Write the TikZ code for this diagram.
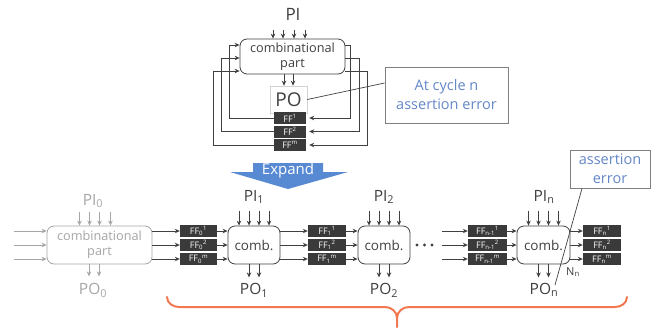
\documentclass[tikz,border=0pt]{standalone}
\usepackage{fontspec}
\setmainfont{Open Sans}
\usetikzlibrary{arrows.meta}
\definecolor{dk}{RGB}{64,64,64}
\definecolor{ffc}{RGB}{58,58,58}
\definecolor{lg}{RGB}{166,166,166}
\definecolor{bluet}{RGB}{100,135,200}
\definecolor{cbord}{RGB}{128,128,128}
\definecolor{expc}{RGB}{88,138,212}
\definecolor{brc}{RGB}{242,120,80}
\definecolor{pob}{RGB}{210,210,210}
\newcommand\fsz[2]{\fontsize{#1}{#2}\selectfont}
\tikzset{
  arr/.style={draw=dk, line width=0.9pt, -{Stealth[length=5pt,width=4.5pt]}},
  garr/.style={draw=lg, line width=0.9pt, -{Stealth[length=5pt,width=4.5pt]}},
  combbox/.style={draw=dk, rounded corners=7pt, fill=white, align=center, inner sep=0pt, line width=0.8pt, text=dk},
  gcombbox/.style={draw=lg, rounded corners=7pt, fill=white, align=center, inner sep=0pt, line width=0.8pt, text=lg},
  pobox/.style={draw=pob, fill=white, inner sep=0pt, text=dk, line width=0.6pt},
  ffbox/.style={fill=ffc, text=white, inner sep=0pt, minimum height=12pt, font=\fsz{9}{9}},
  callbox/.style={draw=cbord, fill=white, line width=0.9pt, align=center, text=bluet, inner sep=0pt, font=\fsz{14.5}{19}},
  cline/.style={draw=dk, line width=0.7pt},
  lbl/.style={text=dk, inner sep=0pt, font=\fsz{15.5}{15.5}},
  glbl/.style={text=lg, inner sep=0pt, font=\fsz{15.5}{15.5}},
  brace/.style={draw=brc, line width=2pt, line cap=round},
}
\begin{document}
\begin{tikzpicture}[x=1pt,y=-1pt]
\useasboundingbox (0,0) rectangle (659,327);

% ---------- top: sequential circuit ----------
\node[lbl, font=\fsz{17}{17}] (pi) at (293,14) {PI};
\node[combbox, minimum width=105pt, minimum height=35pt, font=\fsz{12.7}{15}] (comb) at (292.5,56.5) {combinational\\part};
\foreach \d in {-19.5,-9.5,1.5,12.5}
  \draw[arr] ([xshift=\d pt,yshift=9pt]comb.north) -- ([xshift=\d pt]comb.north);
\node[pobox, minimum width=37pt, minimum height=27pt, font=\fsz{19}{19}] (po) at (288.5,99.5) {PO};
\draw[arr] (comb.south -| 284,0) -- (po.north -| 284,0);
\draw[arr] (comb.south -| 293,0) -- (po.north -| 293,0);
\node[ffbox, minimum width=32pt] (ff1) at (290,118) {FF\textsuperscript{1}};
\node[ffbox, minimum width=32pt] (ff2) at (290,131.5) {FF\textsuperscript{2}};
\node[ffbox, minimum width=32pt] (ffm) at (290,145) {FF\textsuperscript{m}};
% feedback, left side
\draw[arr] (ff1.west) -| (229,45) -- (comb.west |- 0,45);
\draw[arr] (ff2.west) -| (221,58) -- (comb.west |- 0,58);
\draw[arr] (ffm.west) -| (213,71) -- (comb.west |- 0,71);
% feedback, right side
\draw[arr, shorten >=3pt] (comb.east |- 0,45) -| (350,118) -- (ff1.east);
\draw[arr, shorten >=3pt] (comb.east |- 0,58) -| (359,131.5) -- (ff2.east);
\draw[arr, shorten >=3pt] (comb.east |- 0,71) -| (367,145) -- (ffm.east);
% callout
\node[callbox, minimum width=123pt, minimum height=56pt] (call) at (446.5,95) {At cycle n\\assertion error};
\draw[cline] (po.east) -- ([yshift=12pt]call.west);

% ---------- expand arrow ----------
\fill[expc] (253,163) -- (323,163) -- (323,172) -- (348,172) -- (288,189) -- (230,172) -- (253,172) -- cycle;
\node[text=white, inner sep=0pt, font=\fsz{15}{15}] (expand) at (288,171) {Expand};

% ---------- bottom: unrolled ----------
% comb 0 (gray)
\node[glbl] (pi0) at (93,201) {PI\textsubscript{0}};
\node[gcombbox, minimum width=105pt, minimum height=38pt, font=\fsz{12.7}{15}] (c0) at (99.5,245) {combinational\\part};
\foreach \d in {-20,-10,0,11}
  \draw[garr] ([xshift=\d pt,yshift=14pt]c0.north) -- ([xshift=\d pt]c0.north);
\foreach \d in {-10.5,-0.5}
  \draw[garr] ([xshift=\d pt]c0.south) -- ([xshift=\d pt,yshift=-12pt]c0.south);
\node[glbl] (po0) at (93,290) {PO\textsubscript{0}};
\coordinate (in1) at (14,231);
\coordinate (in2) at (14,245);
\coordinate (in3) at (14,259);
\draw[garr] (in1) -- (c0.west |- in1);
\draw[garr] (in2) -- (c0.west |- in2);
\draw[garr] (in3) -- (c0.west |- in3);

% FF0
\node[ffbox, minimum width=37pt] (f01) at (198.5,231) {FF\textsubscript{0}\textsuperscript{1}};
\node[ffbox, minimum width=37pt] (f02) at (198.5,245) {FF\textsubscript{0}\textsuperscript{2}};
\node[ffbox, minimum width=37pt] (f0m) at (198.5,259) {FF\textsubscript{0}\textsuperscript{m}};
\draw[arr] (c0.east |- f01) -- (f01.west);
\draw[arr] (c0.east |- f02) -- (f02.west);
\draw[arr] (c0.east |- f0m) -- (f0m.west);

% comb 1
\node[combbox, minimum width=52pt, minimum height=38pt, font=\fsz{13.5}{13.5}] (c1) at (254,245) {comb.};
\node[lbl] (pi1) at (254,197) {PI\textsubscript{1}};
\node[lbl] (po1) at (254,290) {PO\textsubscript{1}};
\draw[arr] (f01.east) -- (c1.west |- f01);
\draw[arr] (f02.east) -- (c1.west |- f02);
\draw[arr] (f0m.east) -- (c1.west |- f0m);

% FF1
\node[ffbox, minimum width=38pt] (f11) at (327,231) {FF\textsubscript{1}\textsuperscript{1}};
\node[ffbox, minimum width=38pt] (f12) at (327,245) {FF\textsubscript{1}\textsuperscript{2}};
\node[ffbox, minimum width=38pt] (f1m) at (327,259) {FF\textsubscript{1}\textsuperscript{m}};
\draw[arr] (c1.east |- f11) -- (f11.west);
\draw[arr] (c1.east |- f12) -- (f12.west);
\draw[arr] (c1.east |- f1m) -- (f1m.west);

% comb 2
\node[combbox, minimum width=52pt, minimum height=38pt, font=\fsz{13.5}{13.5}] (c2) at (384,245) {comb.};
\node[lbl] (pi2) at (384,197) {PI\textsubscript{2}};
\node[lbl] (po2) at (384,290) {PO\textsubscript{2}};
\draw[arr] (f11.east) -- (c2.west |- f11);
\draw[arr] (f12.east) -- (c2.west |- f12);
\draw[arr] (f1m.east) -- (c2.west |- f1m);

% dots
\fill[dk] (417,245) circle (1.7);
\fill[dk] (424.5,245) circle (1.7);
\fill[dk] (432,245) circle (1.7);

% FF n-1
\node[ffbox, minimum width=39pt] (fa1) at (487.5,231) {FF\textsubscript{n-1}\textsuperscript{1}};
\node[ffbox, minimum width=39pt] (fa2) at (487.5,245) {FF\textsubscript{n-1}\textsuperscript{2}};
\node[ffbox, minimum width=39pt] (fam) at (487.5,259) {FF\textsubscript{n-1}\textsuperscript{m}};
\coordinate (d1) at (442,231);
\coordinate (d2) at (442,245);
\coordinate (d3) at (442,259);
\draw[arr] (d1) -- (fa1.west);
\draw[arr] (d2) -- (fa2.west);
\draw[arr] (d3) -- (fam.west);

% comb n
\node[combbox, minimum width=53pt, minimum height=38pt, font=\fsz{13.5}{13.5}] (cn) at (543.5,245) {comb.};
\node[lbl] (pin) at (544,197) {PI\textsubscript{n}};
\node[lbl] (pon) at (544,290) {PO\textsubscript{n}};
\draw[arr] (fa1.east) -- (cn.west |- fa1);
\draw[arr] (fa2.east) -- (cn.west |- fa2);
\draw[arr] (fam.east) -- (cn.west |- fam);

% FF n
\node[ffbox, minimum width=38pt] (fn1) at (602,231) {FF\textsubscript{n}\textsuperscript{1}};
\node[ffbox, minimum width=38pt] (fn2) at (602,245) {FF\textsubscript{n}\textsuperscript{2}};
\node[ffbox, minimum width=38pt] (fnm) at (602,259) {FF\textsubscript{n}\textsuperscript{m}};
\draw[arr] (cn.east |- fn1) -- (fn1.west);
\draw[arr] (cn.east |- fn2) -- (fn2.west);
\draw[arr] (cn.east |- fnm) -- (fnm.west);

% PI / PO arrows for comb1, comb2, combn
\foreach \c in {c1,c2,cn}{
  \foreach \d in {-15,-5,5,15}
    \draw[arr] ([xshift=\d pt,yshift=15pt]\c.north) -- ([xshift=\d pt]\c.north);
  \foreach \d in {-5,5}
    \draw[arr] ([xshift=\d pt]\c.south) -- ([xshift=\d pt,yshift=-13pt]\c.south);
}

% bottom callout
\node[callbox, minimum width=80pt, minimum height=38pt] (call2) at (610,169) {assertion\\error};
\coordinate (tip) at (555,285);
\draw[cline] ([xshift=-28pt]call2.south) -- (tip);
\node[text=dk, inner sep=0pt, font=\fsz{11}{11}] (nn) at (573,272) {N\textsubscript{n}};

% brace
\draw[brace] (167,297) to[out=-90,in=180] (179,307) -- (385,307) to[out=0,in=90] (397,318) -- (397,327);
\draw[brace] (627,297) to[out=-90,in=0] (615,307) -- (409,307) to[out=180,in=90] (397,318);
\end{tikzpicture}
\end{document}
